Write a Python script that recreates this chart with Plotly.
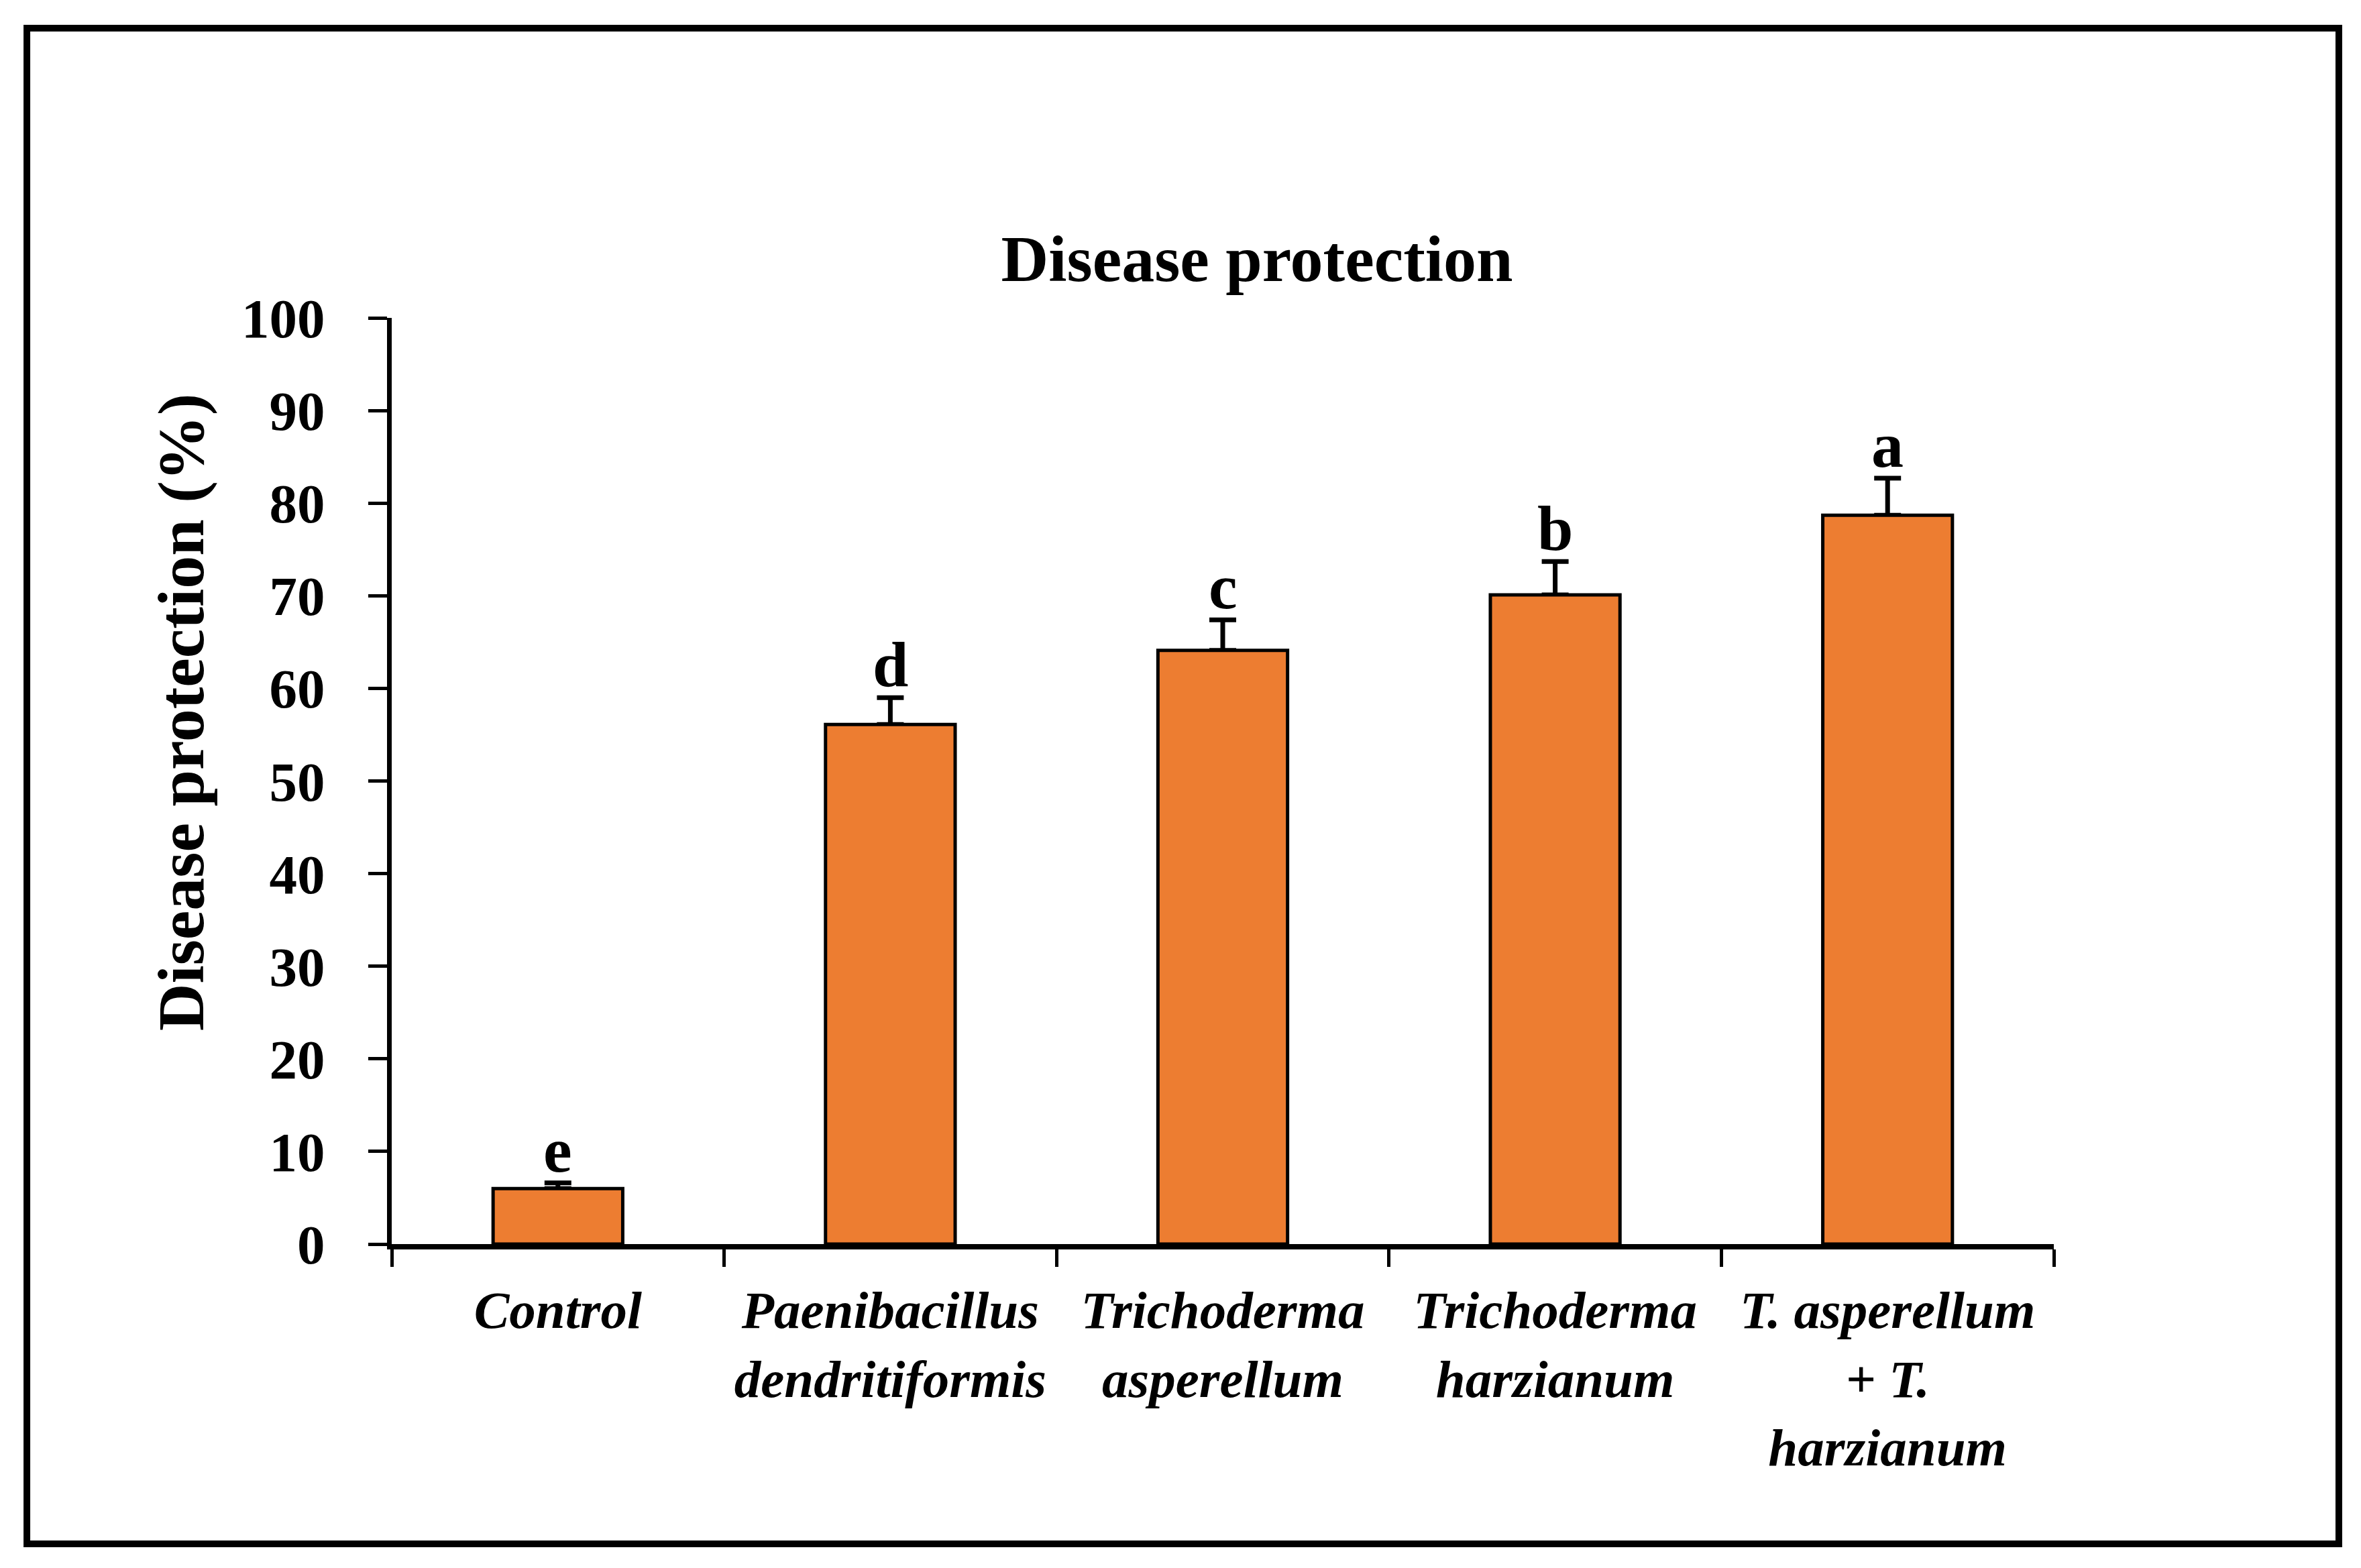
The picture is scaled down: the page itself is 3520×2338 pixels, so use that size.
import plotly.graph_objects as go

# data
treatments = [
    "<i>Control</i>",
    "<i>Paenibacillus<br>dendritiformis</i>",
    "<i>Trichoderma<br>asperellum</i>",
    "<i>Trichoderma<br>harzianum</i>",
    "<i>T. asperellum<br>+ T.<br>harzianum</i>",
]
protection = [6.0, 56.1, 64.1, 70.1, 78.7]
std_err = [0.6, 2.9, 3.3, 3.6, 4.0]
letters = ["e", "d", "c", "b", "a"]

FONT = "Liberation Serif"

fig = go.Figure()

# error bars sit on an invisible copy of the bars, underneath,
# so the orange bars hide the lower cap
fig.add_trace(go.Bar(
    x=treatments,
    y=protection,
    width=0.39,
    marker=dict(color="rgba(0,0,0,0)", line=dict(width=0)),
    error_y=dict(type="data", array=std_err, symmetric=False,
                 arrayminus=[0] * len(std_err),
                 color="black", thickness=7, width=20),
    showlegend=False, hoverinfo="skip",
))

fig.add_trace(go.Bar(
    x=treatments,
    y=protection,
    width=0.39,
    marker=dict(color="#ED7D31", line=dict(color="black", width=5)),
    showlegend=False,
))

# significance letters above the error bars
for t, v, e, lab in zip(treatments, protection, std_err, letters):
    fig.add_annotation(
        x=t, y=v + e, text="<b>" + lab + "</b>", showarrow=False,
        yanchor="bottom", yshift=-6,
        font=dict(family=FONT, size=96, color="black"),
    )

# y axis title
fig.add_annotation(
    xref="paper", yref="paper", x=-0.1267, y=0.574,
    text="<b>Disease protection (%)</b>", textangle=-90, showarrow=False,
    xanchor="center", yanchor="middle",
    font=dict(family=FONT, size=98, color="black"),
)

# outer frame
fig.add_shape(
    type="rect", xref="paper", yref="paper",
    x0=-0.2195, x1=1.1715, y0=-0.3237, y1=1.3128,
    line=dict(color="black", width=10), fillcolor="rgba(0,0,0,0)",
)

fig.update_layout(
    width=3520, height=2338,
    margin=dict(l=576, r=466, t=466, b=491),
    paper_bgcolor="white", plot_bgcolor="white",
    barmode="overlay",
    title=dict(
        text="<b>Disease protection</b>",
        x=0.5206, xref="paper", xanchor="center",
        y=1 - 377 / 2338, yref="container", yanchor="middle",
        font=dict(family=FONT, size=98, color="black"),
    ),
)

fig.update_xaxes(
    type="category", range=[-0.5, 4.5],
    showline=True, linecolor="black", linewidth=8,
    ticks="outside", tickson="boundaries", ticklen=26, tickwidth=5,
    tickcolor="black", ticklabelstandoff=22,
    tickfont=dict(family=FONT, size=79, color="black", weight="bold"),
    showgrid=False, zeroline=False,
)

fig.update_yaxes(
    range=[0, 100], dtick=10, tick0=0,
    showline=True, linecolor="black", linewidth=7,
    ticks="outside", ticklen=28, tickwidth=5, tickcolor="black",
    ticklabelstandoff=48,
    tickfont=dict(family=FONT, size=83, color="black", weight="bold"),
    showgrid=False, zeroline=False,
)

fig.write_html("out.html")
